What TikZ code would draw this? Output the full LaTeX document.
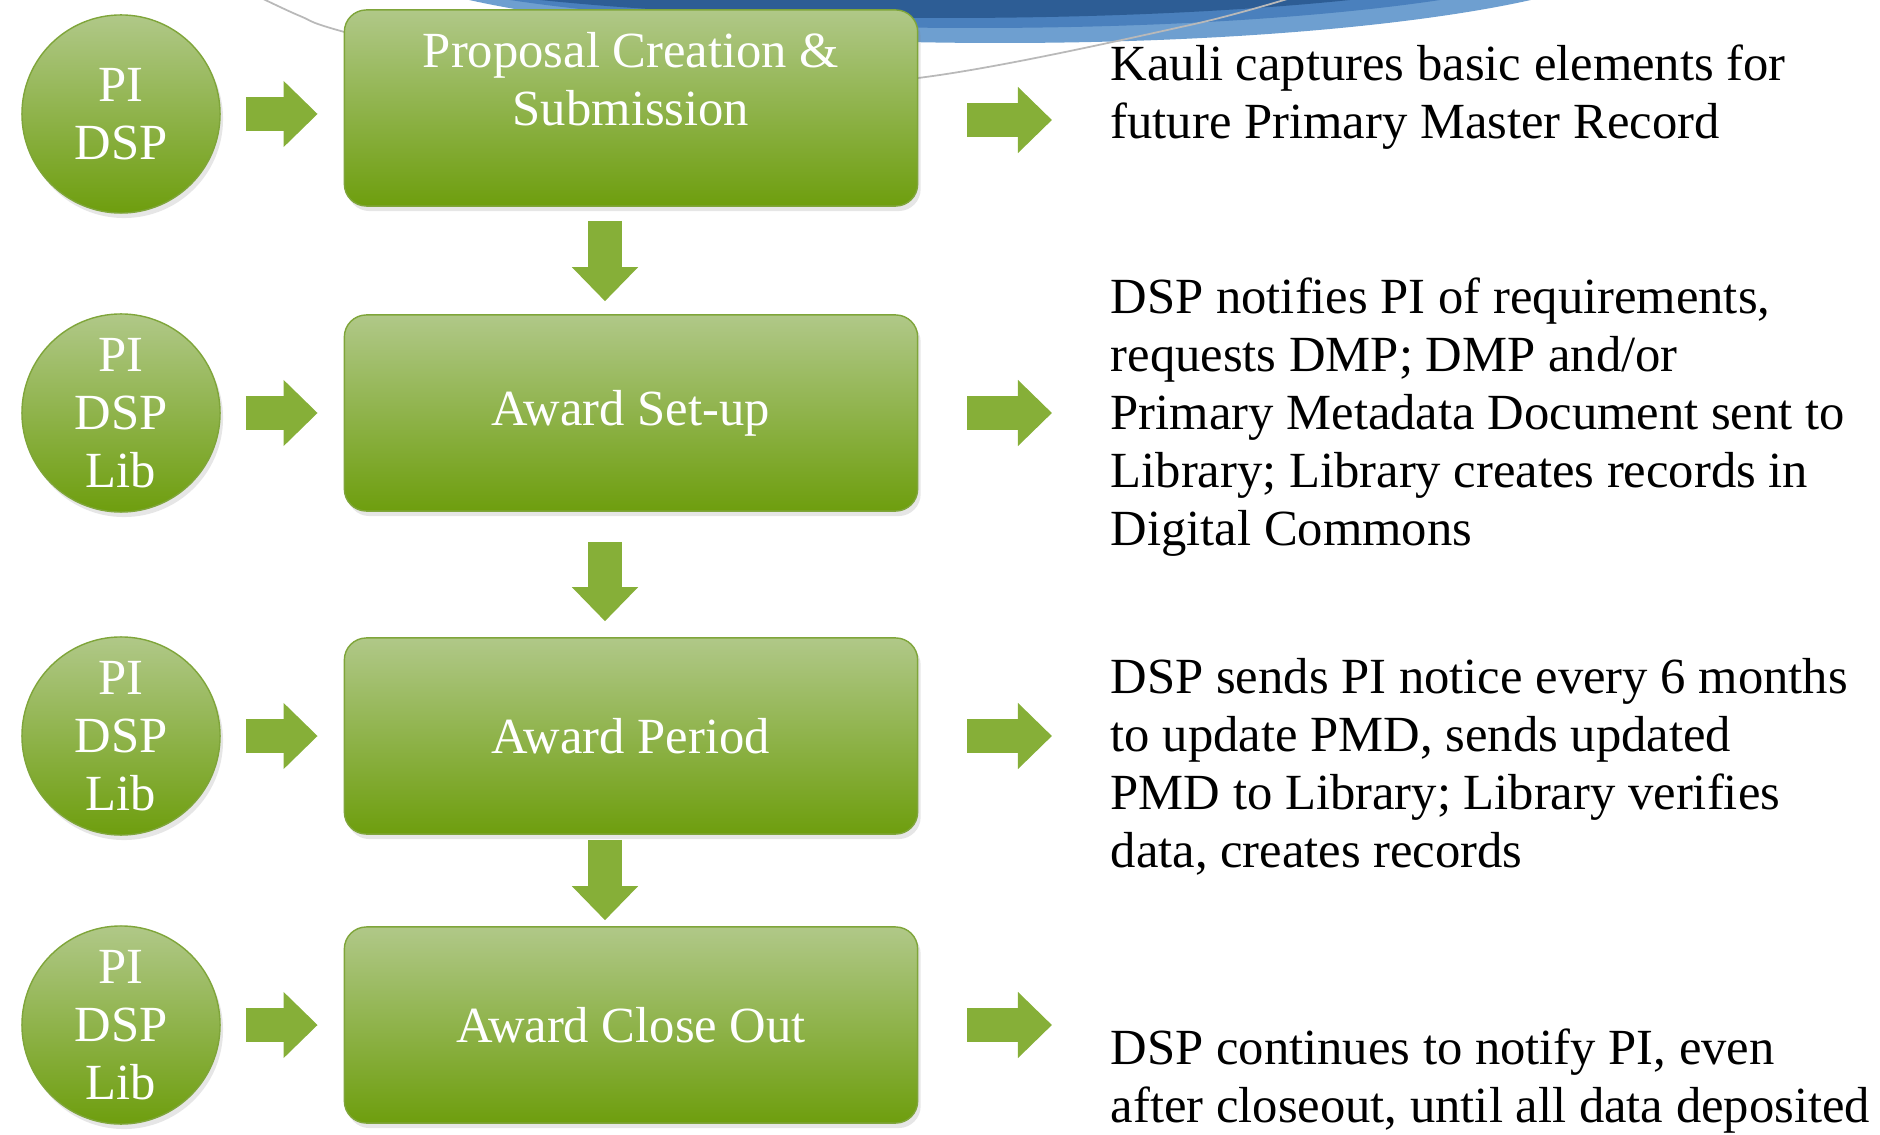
\documentclass[tikz,border=0pt]{standalone}
\usepackage{fontspec}
\setmainfont{Liberation Serif}
\usetikzlibrary{positioning,calc,arrows.meta,shadows}
\definecolor{gtop}{HTML}{B0C888}
\definecolor{gbot}{HTML}{6E9E0E}
\definecolor{gline}{HTML}{7FA53A}
\definecolor{garrow}{HTML}{86AF38}
\definecolor{bluedark}{HTML}{2D5D95}
\definecolor{bluemid}{HTML}{4A80BD}
\definecolor{bluelight}{HTML}{6E9FD0}

\begin{document}
\begin{tikzpicture}[x=0.01cm,y=-0.01cm,
  font=\fontsize{14.4}{16.5}\selectfont,
  who/.style={circle,minimum size=1.98cm,inner sep=0pt,top color=gtop,bottom color=gbot,
    draw=gline,line width=0.4pt,text=white,align=center,
    drop shadow={opacity=0.2,shadow xshift=0.03cm,shadow yshift=-0.05cm}},
  stage/.style={rectangle,rounded corners=0.22cm,minimum width=5.73cm,minimum height=1.96cm,
    top color=gtop,bottom color=gbot,draw=gline,line width=0.4pt,text=white,align=center,
    drop shadow={opacity=0.2,shadow xshift=0.03cm,shadow yshift=-0.05cm}},
  note/.style={anchor=west,align=left,inner sep=0pt},
  flow/.style={line width=0.34cm,draw=garrow,line cap=butt,-{Triangle[length=0.34cm,width=0.64cm]}}]
\useasboundingbox (0,0) rectangle (1880,1134);
% blue swoosh at the top edge, cut off by the page
\begin{scope}
\clip (0,0) rectangle (1880,1134);
\fill[bluelight] (1000,-57) ellipse [x radius=646, y radius=100];
\fill[bluemid] (975,-57) ellipse [x radius=627, y radius=85];
\fill[bluedark] (945,-57) ellipse [x radius=623, y radius=75];
\draw[gray!55,line width=0.5pt] plot[smooth] coordinates {(255,-5)(300,16)(348,33)(600,98)(918,78)(1190,25)(1310,-8)};
\end{scope}
% who is involved
\node[who] (p1) at (121,114) {PI\\DSP};
\node[who] (p2) at (121,413) {PI\\DSP\\Lib};
\node[who] (p3) at (121,736) {PI\\DSP\\Lib};
\node[who] (p4) at (121,1025) {PI\\DSP\\Lib};
% stages
\node[stage] (s1) at (631,108) {Proposal Creation \&\\Submission\\~};
\node[stage] (s2) at (631,413) {Award Set-up};
\node[stage] (s3) at (631,736) {Award Period};
\node[stage] (s4) at (631,1025) {Award Close Out};
% what happens
\node[note] (d1) at (1110,97) {Kauli captures basic elements for\\future Primary Master Record};
\node[note] (d2) at (1110,417) {DSP notifies PI of requirements,\\requests DMP; DMP and/or\\Primary Metadata Document sent to\\Library; Library creates records in\\Digital Commons};
\node[note] (d3) at (1110,767) {DSP sends PI notice every 6 months\\to update PMD, sends updated\\PMD to Library; Library verifies\\data, creates records};
\node[note] (d4) at (1110,1081) {DSP continues to notify PI, even\\after closeout, until all data deposited};
% block arrows
\foreach \i in {1,...,4}
  \draw[flow,shorten <=0.25cm,shorten >=0.26cm] (p\i.east) -- (p\i.east -| s\i.west);
\draw[flow,shorten <=0.49cm,shorten >=0.58cm] ([yshift=-0.12cm]s1.east) -- ([yshift=-0.12cm]s1.east -| d1.west);
\foreach \i in {2,...,4}
  \draw[flow,shorten <=0.49cm,shorten >=0.58cm] (s\i.east) -- (s\i.east -| d\i.west);
\draw[flow,shorten <=0.14cm,shorten >=0.13cm] ([xshift=-0.26cm]s1.south) -- ([xshift=-0.26cm]s2.north);
\draw[flow,shorten <=0.30cm,shorten >=0.16cm] ([xshift=-0.26cm]s2.south) -- ([xshift=-0.26cm]s3.north);
\draw[flow,shorten <=0.05cm,shorten >=0.06cm] ([xshift=-0.26cm]s3.south) -- ([xshift=-0.26cm]s4.north);
\end{tikzpicture}
\end{document}
